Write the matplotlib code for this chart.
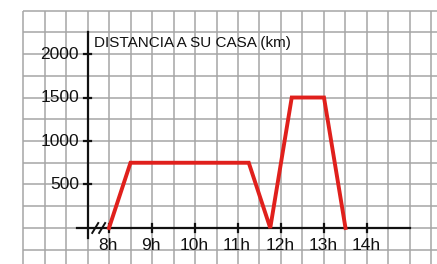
import matplotlib.pyplot as plt

plt.rcParams['font.family'] = ['Liberation Sans', 'DejaVu Sans']

# data
times = [8, 8.5, 11.25, 11.75, 12.25, 13, 13.5]
dist = [0, 750, 750, 0, 1500, 1500, 0]

hours = [8, 9, 10, 11, 12, 13, 14]
hour_labels = ["8h", "9h", "10h", "11h", "12h", "13h", "14h"]
km_ticks = [500, 1000, 1500, 2000]
km_labels = ["500", "1000", "1500", "2000"]

fig = plt.figure(figsize=(4.37, 2.64), dpi=100)
ax = fig.add_axes([0, 0, 1, 1])
ax.set_xlim(5.465, 15.628)
ax.set_ylim(-414, 2621)
ax.axis('off')

# squared paper
grid_x = [6 + 0.5 * i for i in range(20)]
grid_y = [-500 + 250 * i for i in range(13)]
ax.vlines(grid_x, -500, 2500, color='#a6a6a6', lw=1.1, zorder=1)
ax.hlines(grid_y, 6, 15.7, color='#a6a6a6', lw=1.1, zorder=1)

# axes
x0 = 7.5
ax.plot([x0, x0], [-115, 2250], color='#111111', lw=1.6, zorder=3)
ax.plot([7.26, 15.0], [0, 0], color='#111111', lw=1.6, zorder=3)
for k, lab in zip(km_ticks, km_labels):
    ax.plot([x0 - 0.08, x0 + 0.08], [k, k], color='#111111', lw=1.6, zorder=3)
    ax.text(x0 - 0.2, k, lab, ha='right', va='center', fontsize=12.5, color='#111111')
for h, lab in zip(hours, hour_labels):
    ax.plot([h, h], [-46, 46], color='#111111', lw=1.6, zorder=3)
    ax.text(h - 0.03, -118, lab, ha='center', va='top', fontsize=12.5, color='#111111')

# axis break
for dx in (0, 0.16):
    ax.plot([7.61 + dx, 7.75 + dx], [-57, 57], color='#111111', lw=1.4, zorder=3)

ax.text(7.64, 2050, "DISTANCIA A SU CASA (km)", ha='left', va='bottom',
        fontsize=11, color='#111111')

ax.plot(times, dist, color='#e0201c', lw=2.8, solid_joinstyle='miter', zorder=4)

fig.savefig("out.png", dpi=100)
